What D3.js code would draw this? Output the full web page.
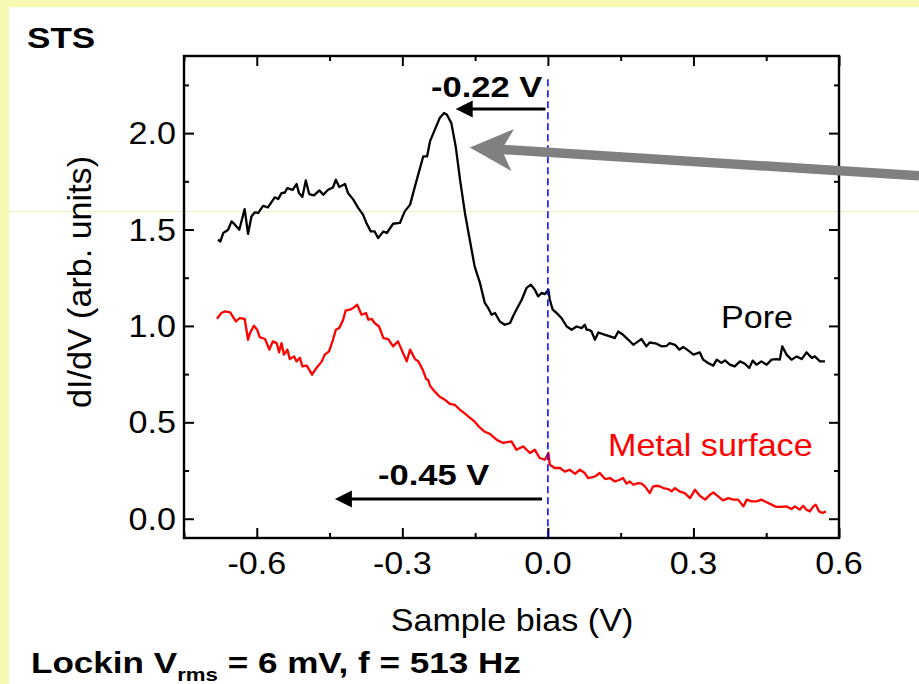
<!DOCTYPE html>
<html><head><meta charset="utf-8">
<script src="https://cdn.jsdelivr.net/npm/d3@7"></script>
<style>html,body{margin:0;padding:0;background:#F7F9B2;} svg{display:block}</style>
</head><body>
<script>
// ---------- data ----------
const poreBias = [-0.680,-0.675,-0.669,-0.659,-0.652,-0.645,-0.636,-0.625,-0.618,-0.611,-0.604,-0.597,-0.587,-0.577,-0.563,-0.556,-0.549,-0.542,-0.537,-0.526,-0.518,-0.513,-0.506,-0.499,-0.492,-0.482,-0.471,-0.463,-0.453,-0.443,-0.437,-0.430,-0.418,-0.412,-0.401,-0.391,-0.381,-0.374,-0.365,-0.357,-0.350,-0.339,-0.332,-0.319,-0.305,-0.295,-0.284,-0.274,-0.257,-0.249,-0.243,-0.233,-0.223,-0.214,-0.208,-0.199,-0.190,-0.181,-0.171,-0.161,-0.151,-0.140,-0.130,-0.123,-0.116,-0.109,-0.099,-0.089,-0.078,-0.072,-0.065,-0.054,-0.044,-0.035,-0.027,-0.020,-0.013,-0.006,0.001,0.004,0.010,0.018,0.028,0.039,0.049,0.059,0.070,0.076,0.080,0.085,0.090,0.097,0.104,0.118,0.128,0.138,0.145,0.155,0.166,0.176,0.186,0.193,0.203,0.210,0.224,0.234,0.245,0.251,0.262,0.271,0.279,0.289,0.300,0.313,0.320,0.330,0.341,0.348,0.358,0.365,0.375,0.385,0.396,0.406,0.415,0.422,0.430,0.440,0.451,0.461,0.471,0.478,0.483,0.492,0.502,0.513,0.523,0.533,0.544,0.550,0.561,0.571];
const poreDIdV = [1.447,1.438,1.482,1.499,1.542,1.525,1.499,1.606,1.477,1.568,1.589,1.586,1.623,1.615,1.667,1.658,1.689,1.692,1.715,1.706,1.736,1.689,1.669,1.755,1.684,1.677,1.703,1.680,1.706,1.718,1.758,1.720,1.736,1.689,1.655,1.612,1.577,1.534,1.490,1.490,1.456,1.490,1.482,1.530,1.534,1.594,1.629,1.724,1.879,1.879,1.957,2.018,2.078,2.104,2.095,2.052,1.931,1.758,1.586,1.447,1.309,1.223,1.119,1.093,1.058,1.067,1.023,1.006,1.015,1.049,1.084,1.136,1.197,1.214,1.188,1.153,1.171,1.165,1.188,1.136,1.084,1.067,1.041,0.997,0.980,0.997,0.989,1.006,0.980,0.980,0.971,0.928,0.966,0.954,0.946,0.937,0.971,0.954,0.928,0.902,0.920,0.932,0.894,0.914,0.908,0.894,0.897,0.911,0.902,0.877,0.891,0.873,0.851,0.863,0.825,0.808,0.794,0.825,0.808,0.821,0.799,0.790,0.816,0.804,0.782,0.820,0.799,0.816,0.799,0.825,0.828,0.825,0.894,0.851,0.825,0.842,0.828,0.863,0.834,0.842,0.816,0.816];
const metalBias = [-0.682,-0.673,-0.666,-0.655,-0.643,-0.635,-0.625,-0.618,-0.614,-0.606,-0.599,-0.594,-0.583,-0.574,-0.567,-0.559,-0.554,-0.549,-0.544,-0.537,-0.532,-0.523,-0.518,-0.511,-0.506,-0.497,-0.486,-0.477,-0.466,-0.460,-0.451,-0.443,-0.437,-0.430,-0.422,-0.417,-0.408,-0.401,-0.393,-0.384,-0.375,-0.370,-0.363,-0.357,-0.348,-0.339,-0.329,-0.319,-0.309,-0.300,-0.291,-0.284,-0.274,-0.267,-0.258,-0.251,-0.247,-0.243,-0.233,-0.223,-0.212,-0.202,-0.192,-0.181,-0.171,-0.161,-0.151,-0.140,-0.130,-0.120,-0.106,-0.092,-0.075,-0.065,-0.051,-0.037,-0.027,-0.017,-0.006,0.001,0.004,0.014,0.025,0.035,0.045,0.056,0.066,0.076,0.083,0.097,0.107,0.118,0.128,0.138,0.148,0.155,0.162,0.169,0.176,0.186,0.193,0.200,0.210,0.217,0.227,0.238,0.248,0.255,0.262,0.271,0.282,0.293,0.303,0.313,0.324,0.334,0.341,0.351,0.361,0.372,0.382,0.392,0.403,0.410,0.420,0.430,0.440,0.451,0.461,0.471,0.482,0.492,0.502,0.509,0.519,0.526,0.533,0.540,0.547,0.552,0.559,0.566,0.573];
const metalDIdV = [1.037,1.067,1.075,1.070,1.023,1.041,1.037,0.928,0.963,1.001,0.980,0.942,0.932,0.877,0.920,0.911,0.863,0.911,0.851,0.877,0.828,0.842,0.816,0.834,0.790,0.794,0.747,0.782,0.816,0.851,0.868,0.928,0.980,0.989,1.032,1.079,1.084,1.093,1.110,1.058,1.067,1.032,1.036,1.015,0.997,0.937,0.932,0.894,0.920,0.868,0.816,0.877,0.828,0.816,0.773,0.725,0.721,0.690,0.659,0.633,0.617,0.596,0.591,0.565,0.545,0.524,0.503,0.472,0.451,0.441,0.410,0.393,0.401,0.358,0.375,0.341,0.358,0.315,0.306,0.341,0.280,0.263,0.263,0.244,0.254,0.233,0.254,0.237,0.211,0.219,0.237,0.206,0.211,0.193,0.202,0.211,0.182,0.193,0.176,0.185,0.182,0.168,0.133,0.168,0.171,0.159,0.154,0.142,0.159,0.142,0.133,0.107,0.150,0.119,0.099,0.124,0.136,0.116,0.095,0.107,0.099,0.099,0.064,0.099,0.090,0.090,0.099,0.085,0.073,0.061,0.061,0.064,0.050,0.064,0.047,0.067,0.047,0.038,0.064,0.073,0.038,0.030,0.038];
const xTickValues = [-0.6, -0.3, 0.0, 0.3, 0.6];
const xMinorValues = [-0.75, -0.45, -0.15, 0.15, 0.45];
const yTickValues = [0.0, 0.5, 1.0, 1.5, 2.0];
const yMinorValues = [0.25, 0.75, 1.25, 1.75, 2.25];
const xTickLabels = ["-0.6", "-0.3", "0.0", "0.3", "0.6"];
const yTickLabels = ["0.0", "0.5", "1.0", "1.5", "2.0"];
// annotation values (data units)
const poreShift = {from: -0.005, to: -0.19, level: 2.125, text: "-0.22 V"};
const metalShift = {from: -0.012, to: -0.439, level: 0.102, text: "-0.45 V"};
const pointer = {from: [0.765, 1.779], to: [-0.161, 1.926]};

// ---------- layout ----------
const W = 919, H = 684;
const svg = d3.select("body").append("svg").attr("width", W).attr("height", H);
svg.append("rect").attr("width", W).attr("height", H).attr("fill", "#F7F9B2");
svg.append("rect").attr("x", 9).attr("y", 7).attr("width", W - 9).attr("height", H - 7).attr("fill", "#ffffff");
svg.append("line").attr("x1", 9).attr("x2", W).attr("y1", 211.5).attr("y2", 211.5)
  .attr("stroke", "#EEF3C4").attr("stroke-width", 1);

const x = d3.scaleLinear().domain([-0.75, 0.6]).range([184, 839]);
const y = d3.scaleLinear().domain([-0.1, 2.4]).range([538, 56]);
const FONT = "'Liberation Sans', Arial, Helvetica, sans-serif";

function ticks(gen, vals, size, tr) {
  const g = svg.append("g").attr("transform", tr).call(gen.tickValues(vals).tickSize(size).tickFormat(""));
  g.select(".domain").remove();
  g.selectAll(".tick line").attr("stroke", "#000").attr("stroke-width", 2);
}
ticks(d3.axisBottom(x), xTickValues, -10, `translate(0,${y.range()[0]})`);
ticks(d3.axisBottom(x), xMinorValues, -5, `translate(0,${y.range()[0]})`);
ticks(d3.axisTop(x), xTickValues, -10, `translate(0,${y.range()[1]})`);
ticks(d3.axisTop(x), xMinorValues, -5, `translate(0,${y.range()[1]})`);
ticks(d3.axisLeft(y), yTickValues, -10, `translate(${x.range()[0]},0)`);
ticks(d3.axisLeft(y), yMinorValues, -5, `translate(${x.range()[0]},0)`);
ticks(d3.axisRight(y), yTickValues, -10, `translate(${x.range()[1]},0)`);
ticks(d3.axisRight(y), yMinorValues, -5, `translate(${x.range()[1]},0)`);

// curves
const line = d3.line().x(d => x(d[0])).y(d => y(d[1]));
svg.append("path").datum(poreBias.map((b, i) => [b, poreDIdV[i]]))
  .attr("d", line).attr("fill", "none").attr("stroke", "#000").attr("stroke-width", 2.3).attr("stroke-linejoin", "round");
svg.append("path").datum(metalBias.map((b, i) => [b, metalDIdV[i]]))
  .attr("d", line).attr("fill", "none").attr("stroke", "#FF0000").attr("stroke-width", 2.3).attr("stroke-linejoin", "round");

// frame
svg.append("rect").attr("x", x.range()[0]).attr("y", y.range()[1])
  .attr("width", x.range()[1] - x.range()[0]).attr("height", y.range()[0] - y.range()[1])
  .attr("fill", "none").attr("stroke", "#000").attr("stroke-width", 2.4);

// zero-bias dashed line
svg.append("line").attr("x1", x(0)).attr("x2", x(0)).attr("y1", y(2.28)).attr("y2", y(-0.1))
  .attr("stroke", "#0000FF").attr("stroke-width", 1.5).attr("stroke-dasharray", "7,4");

// text helper
function txt(s, px, py, size, opts = {}) {
  const t = svg.append("text")
    .attr("transform", `translate(${px},${py}) scale(${opts.sx || 1.1},${opts.sy || 1})` + (opts.rot ? ` rotate(${opts.rot})` : ""))
    .attr("font-family", FONT).attr("font-size", size)
    .attr("font-weight", opts.bold ? "bold" : "normal")
    .attr("fill", opts.fill || "#000")
    .attr("text-anchor", opts.anchor || "start");
  t.text(s);
  return t;
}

// tick labels
xTickValues.forEach((v, i) => txt(xTickLabels[i], x(v), 574, 31, {anchor: "middle"}));
yTickValues.forEach((v, i) => txt(yTickLabels[i], 176, y(v) + 11, 31, {anchor: "end"}));

// axis titles
txt("Sample bias (V)", 512, 631, 31, {anchor: "middle"});
txt("dI/dV (arb. units)", 91, 282, 31, {anchor: "middle", rot: -90, sx: 1.08, sy: 1.1});

// series labels
txt("Pore", 721, 328, 31);
txt("Metal surface", 608, 456, 31, {fill: "#FF0000"});

// headings
txt("STS", 27, 48, 30, {bold: true, sx: 1.17});
const lk = txt("Lockin V", 31, 673, 30, {bold: true, sx: 1.17});
lk.append("tspan").attr("font-size", 19).attr("dy", 8).text("rms");
lk.append("tspan").attr("dy", -8).text(" = 6 mV, f = 513 Hz");

// shift arrows
function shiftArrow(a, textX, textY) {
  const yy = y(a.level), x0 = x(a.from), x1 = x(a.to);
  svg.append("line").attr("x1", x0).attr("x2", x1 + 14).attr("y1", yy).attr("y2", yy)
    .attr("stroke", "#000").attr("stroke-width", 3);
  svg.append("path").attr("d", `M${x1},${yy} L${x1 + 17},${yy - 8.5} L${x1 + 17},${yy + 8.5} Z`).attr("fill", "#000");
  txt(a.text, textX, textY, 30, {bold: true, sx: 1.15});
}
shiftArrow(poreShift, 431, 97);
shiftArrow(metalShift, 378, 485);

// big grey pointer
(function () {
  const tx = x(pointer.to[0]), ty = y(pointer.to[1]);
  const fx = x(pointer.from[0]), fy = y(pointer.from[1]);
  const dx = fx - tx, dy = fy - ty, L = Math.hypot(dx, dy);
  const ux = dx / L, uy = dy / L, nx = -uy, ny = ux;
  const headLen = 43, headW = 21, notch = 32;
  const bx = tx + ux * headLen, by = ty + uy * headLen;
  const nX = tx + ux * notch, nY = ty + uy * notch;
  svg.append("line").attr("x1", nX).attr("y1", nY).attr("x2", fx).attr("y2", fy)
    .attr("stroke", "#808080").attr("stroke-width", 9.5);
  svg.append("path")
    .attr("d", `M${tx},${ty} L${bx + nx * headW},${by + ny * headW} L${nX},${nY} L${bx - nx * headW},${by - ny * headW} Z`)
    .attr("fill", "#808080");
})();
</script>
</body></html>
